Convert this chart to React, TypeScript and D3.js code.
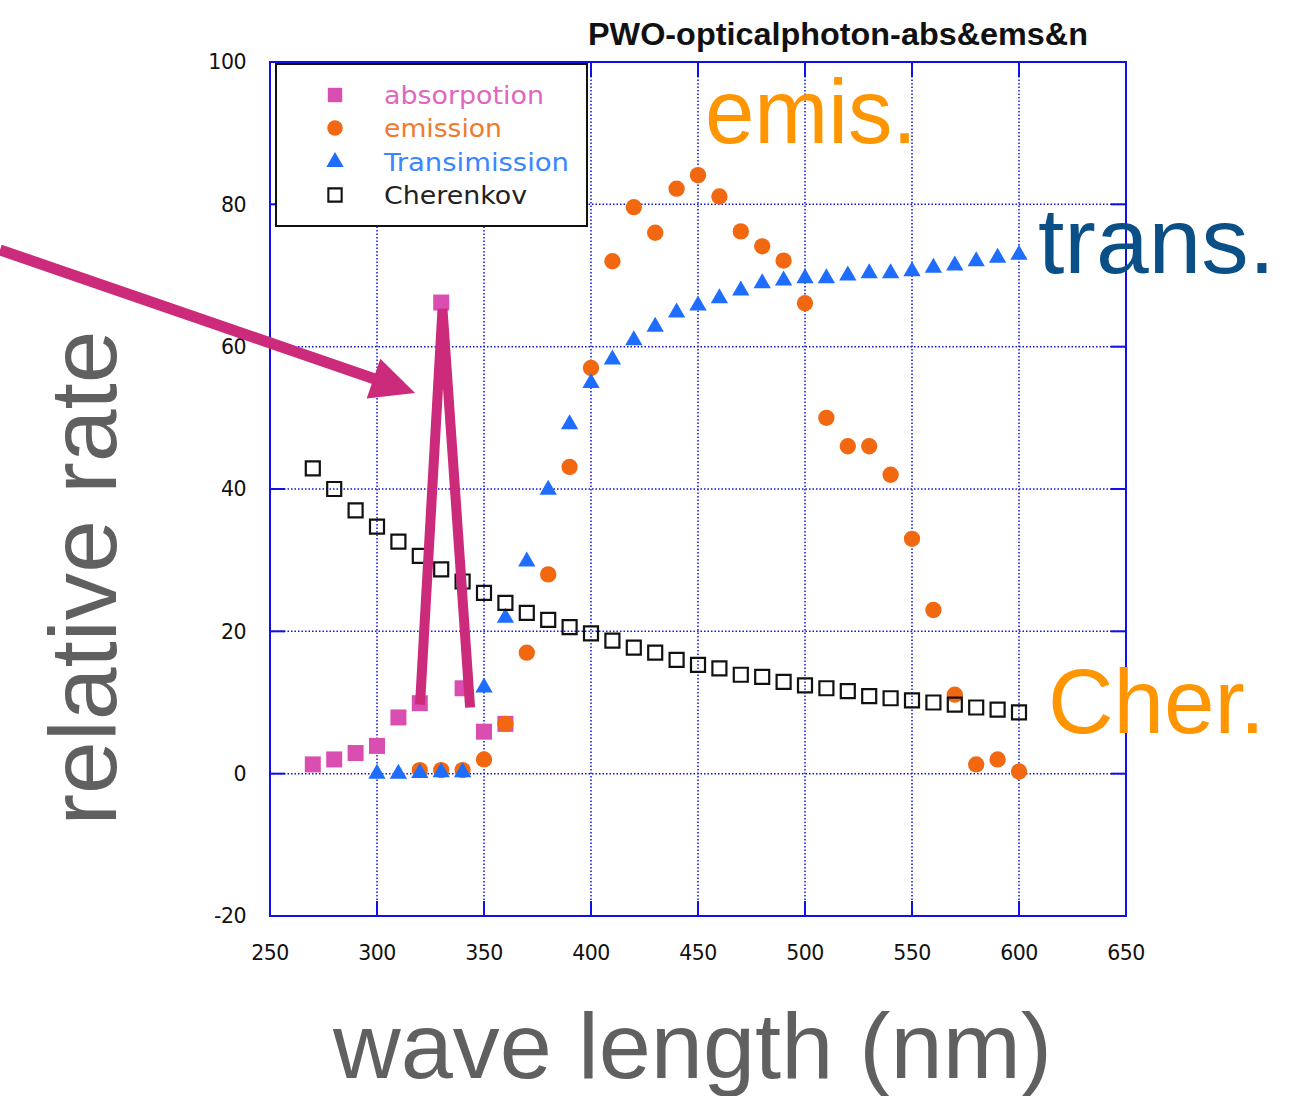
import React from "react";
import * as d3 from "d3";

const xTicks = [250, 300, 350, 400, 450, 500, 550, 600, 650];
const yTicks = [-20, 0, 20, 40, 60, 80, 100];

const absWl = [270, 280, 290, 300, 310, 320, 330, 340, 350, 360];
const absVal = [1.3, 2.0, 2.9, 3.9, 7.9, 9.9, 66.2, 12.0, 5.9, 7.0];

const emsWl = [320, 330, 340, 350, 360, 370, 380, 390, 400, 410, 420, 430, 440, 450, 460, 470, 480, 490, 500, 510, 520, 530, 540, 550, 560, 570, 580, 590, 600];
const emsVal = [0.5, 0.5, 0.5, 2.0, 7.0, 17.0, 28.0, 43.1, 57.0, 72.0, 79.6, 76.0, 82.2, 84.1, 81.1, 76.2, 74.1, 72.1, 66.1, 50.0, 46.0, 46.0, 42.0, 33.0, 23.0, 11.1, 1.3, 2.0, 0.3];

const trWl = [300, 310, 320, 330, 340, 350, 360, 370, 380, 390, 400, 410, 420, 430, 440, 450, 460, 470, 480, 490, 500, 510, 520, 530, 540, 550, 560, 570, 580, 590, 600];
const trVal = [0, 0, 0.1, 0.2, 0.2, 12.1, 21.9, 29.8, 39.9, 49.1, 54.9, 58.2, 60.9, 62.8, 64.8, 65.8, 66.8, 67.9, 68.9, 69.3, 69.6, 69.6, 70.0, 70.3, 70.3, 70.6, 71.1, 71.4, 72.0, 72.5, 72.9];

const chWl = [270, 280, 290, 300, 310, 320, 330, 340, 350, 360, 370, 380, 390, 400, 410, 420, 430, 440, 450, 460, 470, 480, 490, 500, 510, 520, 530, 540, 550, 560, 570, 580, 590, 600];
const chVal = [42.9, 40.0, 37.0, 34.7, 32.6, 30.6, 28.7, 27.0, 25.4, 24.0, 22.6, 21.6, 20.6, 19.7, 18.7, 17.7, 17.0, 16.0, 15.3, 14.8, 13.9, 13.6, 12.9, 12.4, 12.0, 11.6, 10.9, 10.6, 10.3, 10.0, 9.7, 9.3, 9.0, 8.6];

const legendLabels = ["absorpotion", "emission", "Transimission", "Cherenkov"];

// annotation anchor points in data coordinates
const arrowStart = [123.8, 73.6];
const arrowTip = [317.8, 53.5];
const peakPath = [[320.1, 9.7], [330.6, 65.3], [343.5, 9.3]];

export default function App() {
  const W = 1296, H = 1096;
  const left = 270, right = 1126, top = 62, bottom = 916;
  const x = d3.scaleLinear().domain([250, 650]).range([left, right]);
  const y = d3.scaleLinear().domain([-20, 100]).range([bottom, top]);

  const gridColor = "#1010e8";
  const absColor = "#d94eb0";
  const emsColor = "#f26810";
  const trColor = "#1f6dff";
  const annot = "#cc2a7a";

  const sq = d3.symbol().type(d3.symbolSquare).size(256)() as string;
  const circ = d3.symbol().type(d3.symbolCircle).size(210)() as string;
  const tri = d3.symbol().type(d3.symbolTriangle).size(130)() as string;
  const hollow = d3.symbol().type(d3.symbolSquare).size(196)() as string;

  const fontTick = "'DejaVu Sans', Verdana, sans-serif";
  const fontTitle = "'Liberation Sans', Arial, sans-serif";
  const fontBig = "'Liberation Sans', Arial, Helvetica, sans-serif";

  // arrow geometry
  const ax0 = x(arrowStart[0]), ay0 = y(arrowStart[1]);
  const ax1 = x(arrowTip[0]), ay1 = y(arrowTip[1]);
  const ang = Math.atan2(ay1 - ay0, ax1 - ax0);
  const headLen = 44, headHalf = 21;
  const bx = ax1 - headLen * Math.cos(ang), by = ay1 - headLen * Math.sin(ang);
  const px = -Math.sin(ang), py = Math.cos(ang);
  const head = `M${ax1},${ay1}L${bx + px * headHalf},${by + py * headHalf}L${bx - px * headHalf},${by - py * headHalf}Z`;

  const peakLine = d3.line().x((d: any) => x(d[0])).y((d: any) => y(d[1]))(peakPath as any) as string;

  const legendX = 276, legendY = 64, legendW = 311, legendH = 162;
  const legendRows = [95, 128, 162, 195];
  const legendColors = ["#e066c0", "#f07a30", "#3a86ff", "#222"];
  const legendWidths = [160, 118, 185, 143];

  return (
    <svg width={W} height={H} style={{ position: "absolute", left: 0, top: 0, background: "#fff" }}>
      <rect x={0} y={0} width={W} height={H} fill="#fff" />
      {/* grid */}
      {xTicks.slice(1, -1).map((t) => (
        <line key={"gx" + t} x1={x(t)} x2={x(t)} y1={top} y2={bottom} stroke={gridColor} strokeWidth={1.5} strokeDasharray="1.5 2" />
      ))}
      {yTicks.slice(1, -1).map((t) => (
        <line key={"gy" + t} x1={left} x2={right} y1={y(t)} y2={y(t)} stroke={gridColor} strokeWidth={1.5} strokeDasharray="1.5 2" />
      ))}
      {/* ticks */}
      {xTicks.slice(1, -1).map((t) => (
        <g key={"tx" + t}>
          <line x1={x(t)} x2={x(t)} y1={bottom} y2={bottom - 15} stroke={gridColor} strokeWidth={2} />
          <line x1={x(t)} x2={x(t)} y1={top} y2={top + 15} stroke={gridColor} strokeWidth={2} />
        </g>
      ))}
      {yTicks.slice(1, -1).map((t) => (
        <g key={"ty" + t}>
          <line x1={left} x2={left + 15} y1={y(t)} y2={y(t)} stroke={gridColor} strokeWidth={2} />
          <line x1={right} x2={right - 15} y1={y(t)} y2={y(t)} stroke={gridColor} strokeWidth={2} />
        </g>
      ))}
      <rect x={left} y={top} width={right - left} height={bottom - top} fill="none" stroke={gridColor} strokeWidth={2} />

      {/* tick labels */}
      {yTicks.map((t) => (
        <text key={"ly" + t} x={246} y={y(t)} dy="0.36em" textAnchor="end" fontFamily={fontTick} fontSize={20.5} fill="#111" letterSpacing={-0.5}>{t}</text>
      ))}
      {xTicks.map((t) => (
        <text key={"lx" + t} x={x(t)} y={953} dy="0.36em" textAnchor="middle" fontFamily={fontTick} fontSize={20.5} fill="#111" letterSpacing={-0.5}>{t}</text>
      ))}

      {/* title */}
      <text x={588} y={45} fontFamily={fontTitle} fontWeight="bold" fontSize={31} fill="#111" textLength={500} lengthAdjust="spacingAndGlyphs">PWO-opticalphoton-abs&amp;ems&amp;n</text>

      {/* data */}
      {absWl.map((w, i) => (
        <path key={"a" + i} d={sq} transform={`translate(${x(w)},${y(absVal[i])})`} fill={absColor} />
      ))}
      {emsWl.map((w, i) => (
        <path key={"e" + i} d={circ} transform={`translate(${x(w)},${y(emsVal[i])})`} fill={emsColor} />
      ))}
      {trWl.map((w, i) => (
        <path key={"t" + i} d={tri} transform={`translate(${x(w)},${y(trVal[i])})`} fill={trColor} />
      ))}
      {chWl.map((w, i) => (
        <path key={"c" + i} d={hollow} transform={`translate(${x(w)},${y(chVal[i])})`} fill="none" stroke="#111" strokeWidth={2.2} />
      ))}

      {/* legend */}
      <rect x={legendX} y={legendY} width={legendW} height={legendH} fill="#fff" stroke="#111" strokeWidth={2} />
      <path d={sq} transform={`translate(335,${legendRows[0]}) scale(0.9)`} fill={absColor} />
      <path d={circ} transform={`translate(335,${legendRows[1]}) scale(0.95)`} fill={emsColor} />
      <path d={tri} transform={`translate(335,${legendRows[2]})`} fill={trColor} />
      <path d={hollow} transform={`translate(335,${legendRows[3]}) scale(0.95)`} fill="none" stroke="#111" strokeWidth={2.2} />
      {legendLabels.map((l, i) => (
        <text key={l} x={384} y={legendRows[i]} dy="0.36em" fontFamily="'DejaVu Sans', Verdana, sans-serif" fontSize={24} fill={legendColors[i]} textLength={legendWidths[i]} lengthAdjust="spacingAndGlyphs">{l}</text>
      ))}

      {/* annotations */}
      <line x1={ax0} y1={ay0} x2={bx + 6 * Math.cos(ang)} y2={by + 6 * Math.sin(ang)} stroke={annot} strokeWidth={11} />
      <path d={head} fill={annot} />
      <path d={peakLine} fill="none" stroke={annot} strokeWidth={10} strokeLinejoin="bevel" />

      <text x={705} y={143} fontFamily={fontBig} fontSize={90} fill="#ff9500" textLength={212} lengthAdjust="spacingAndGlyphs">emis.</text>
      <text x={1038} y={273} fontFamily={fontBig} fontSize={92} fill="#0a4f86" textLength={237} lengthAdjust="spacingAndGlyphs">trans.</text>
      <text x={1048} y={733} fontFamily={fontBig} fontSize={90} fill="#ff9500" textLength={217} lengthAdjust="spacingAndGlyphs">Cher.</text>

      <text transform="translate(116,578) rotate(-90)" textAnchor="middle" fontFamily={fontBig} fontSize={94} fill="#606060" textLength={495} lengthAdjust="spacingAndGlyphs">relative rate</text>
      <text x={333} y={1078} fontFamily={fontBig} fontSize={92} fill="#606060" textLength={719} lengthAdjust="spacingAndGlyphs">wave length (nm)</text>
    </svg>
  );
}
